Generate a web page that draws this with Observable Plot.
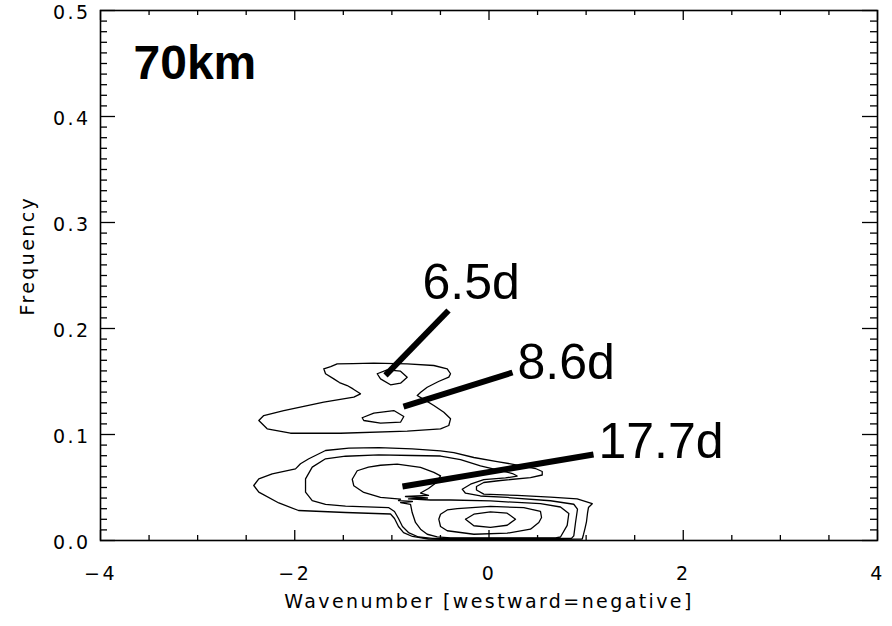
<!DOCTYPE html>
<html>
<head>
<meta charset="utf-8">
<script src="https://cdn.jsdelivr.net/npm/d3@7"></script>
<script src="https://cdn.jsdelivr.net/npm/@observablehq/plot@0.6"></script>
<style>
  body { margin: 0; background: #fff; }
  svg g[font-size="19"] { letter-spacing: 2.4px; }
</style>
</head>
<body>
<div id="chart"></div>
<script>
// ---- axis ticks & labels ----
const xTicks = [-4, -2, 0, 2, 4];
const xTickLabels = ["\u22124", "\u22122", "0", "2", "4"];
const xMinorTicks = [-3.5, -3, -2.5, -1.5, -1, -0.5, 0.5, 1, 1.5, 2.5, 3, 3.5];
const yTicks = [0, 0.1, 0.2, 0.3, 0.4, 0.5];
const yTickLabels = ["0.0", "0.1", "0.2", "0.3", "0.4", "0.5"];
const yMinorTicks = [0.01,0.02,0.03,0.04,0.05,0.06,0.07,0.08,0.09,
  0.11,0.12,0.13,0.14,0.15,0.16,0.17,0.18,0.19,
  0.21,0.22,0.23,0.24,0.25,0.26,0.27,0.28,0.29,
  0.31,0.32,0.33,0.34,0.35,0.36,0.37,0.38,0.39,
  0.41,0.42,0.43,0.44,0.45,0.46,0.47,0.48,0.49];

// ---- contour lines [wavenumber, frequency] ----
const upperOuter = [[-1.701,0.1620],[-1.630,0.1640],[-1.563,0.1667],[-1.400,0.1668],[-1.186,0.1673],[-0.842,0.1667],[-0.568,0.1651],[-0.430,0.1620],[-0.396,0.1573],[-0.414,0.1541],[-0.520,0.1500],[-0.636,0.1446],[-0.700,0.1400],[-0.739,0.1368],[-0.650,0.1320],[-0.568,0.1274],[-0.465,0.1210],[-0.396,0.1148],[-0.414,0.1085],[-0.499,0.1054],[-0.842,0.1031],[-1.529,0.1012],[-2.044,0.1012],[-2.284,0.1054],[-2.370,0.1132],[-2.319,0.1179],[-2.113,0.1226],[-1.701,0.1305],[-1.392,0.1352],[-1.323,0.1384],[-1.400,0.1430],[-1.460,0.1462],[-1.540,0.1490],[-1.598,0.1525],[-1.683,0.1573]];
const peak65 = [[-1.151,0.1573],[-1.048,0.1610],[-0.911,0.1597],[-0.842,0.1541],[-0.911,0.1484],[-1.014,0.1469],[-1.117,0.1525]];
const peak86 = [[-1.306,0.1158],[-1.186,0.1201],[-0.980,0.1226],[-0.877,0.1170],[-0.911,0.1116],[-1.117,0.1107],[-1.289,0.1132]];
const lowerLevel1 = [[-2.422,0.0519],[-2.370,0.0582],[-2.232,0.0629],[-1.992,0.0676],[-1.941,0.0724],[-1.855,0.0771],[-1.683,0.0849],[-1.443,0.0871],[-1.135,0.0877],[-0.791,0.0865],[-0.499,0.0846],[-0.362,0.0830],[-0.156,0.0783],[0.084,0.0745],[0.290,0.0712],[0.479,0.0679],[0.548,0.0651],[0.548,0.0618],[0.427,0.0594],[0.118,0.0566],[-0.054,0.0547],[-0.129,0.0509],[-0.129,0.0476],[-0.054,0.0437],[0.290,0.0425],[0.633,0.0410],[0.908,0.0392],[1.063,0.0347],[1.024,0.0311],[1.014,0.0255],[1.004,0.0179],[0.988,0.0113],[0.973,0.0057],[0.960,0.0014],[0.736,0.0012],[-0.499,0.0012],[-0.623,0.0014],[-0.788,0.0038],[-0.880,0.0075],[-0.932,0.0132],[-0.973,0.0208],[-1.014,0.0250],[-1.477,0.0264],[-1.961,0.0283],[-2.164,0.0354],[-2.370,0.0456]];
const lowerLevel2 = [[-1.889,0.0519],[-1.889,0.0582],[-1.820,0.0692],[-1.683,0.0771],[-1.477,0.0795],[-1.135,0.0808],[-0.791,0.0802],[-0.499,0.0797],[-0.293,0.0764],[-0.088,0.0705],[0.118,0.0660],[0.242,0.0632],[0.290,0.0608],[0.170,0.0590],[-0.054,0.0575],[-0.190,0.0531],[-0.276,0.0484],[-0.242,0.0446],[-0.088,0.0420],[0.187,0.0406],[0.633,0.0375],[0.873,0.0342],[0.911,0.0295],[0.891,0.0170],[0.873,0.0044],[0.849,0.0020],[-0.582,0.0020],[-0.726,0.0033],[-0.829,0.0075],[-0.891,0.0132],[-0.932,0.0208],[-0.973,0.0274],[-1.035,0.0311],[-1.477,0.0325],[-1.683,0.0340],[-1.820,0.0377],[-1.889,0.0456]];
const lowerLevel3 = [[-1.408,0.0578],[-1.357,0.0658],[-1.241,0.0693],[-1.117,0.0710],[-0.945,0.0720],[-0.705,0.0689],[-0.568,0.0642],[-0.499,0.0610],[-0.541,0.0547],[-0.623,0.0491],[-0.705,0.0448],[-0.623,0.0425],[-0.860,0.0415],[-0.633,0.0401],[-0.829,0.0392],[-0.602,0.0382],[-0.396,0.0382],[0.015,0.0373],[0.530,0.0347],[0.736,0.0316],[0.822,0.0255],[0.805,0.0142],[0.736,0.0033],[0.685,0.0025],[-0.396,0.0025],[-0.533,0.0035],[-0.636,0.0059],[-0.705,0.0107],[-0.757,0.0170],[-0.791,0.0264],[-0.808,0.0340],[-0.911,0.0358],[-0.788,0.0368],[-0.932,0.0377],[-0.911,0.0390],[-1.117,0.0406],[-1.289,0.0453],[-1.392,0.0516]];
const lowerLevel4 = [[-0.517,0.0201],[-0.499,0.0248],[-0.430,0.0288],[-0.327,0.0300],[0.015,0.0321],[0.358,0.0311],[0.530,0.0274],[0.541,0.0217],[0.513,0.0170],[0.427,0.0107],[0.187,0.0069],[-0.156,0.0059],[-0.430,0.0092],[-0.499,0.0132]];
const lowerLevel5 = [[-0.242,0.0201],[-0.156,0.0248],[0.015,0.0271],[0.187,0.0258],[0.273,0.0201],[0.187,0.0144],[0.015,0.0123],[-0.156,0.0139]];

// ---- annotations ----
const periodLabels = ["6.5d", "8.6d", "17.7d"];
const labelX = [-0.685, 0.293, 1.127];
const labelY = [0.2425, 0.167, 0.0925];
const leaderX1 = [-0.417, 0.242, 1.076];
const leaderY1 = [0.2170, 0.1585, 0.0811];
const leaderX2 = [-1.066, -0.880, -0.891];
const leaderY2 = [0.1557, 0.1264, 0.0509];
const panelTitle = ["70km"];
const panelTitleX = [-3.66];
const panelTitleY = [0.4495];

// build tables
const contourRows = [];
[["upperOuter", upperOuter], ["peak65", peak65], ["peak86", peak86],
 ["l1", lowerLevel1], ["l2", lowerLevel2], ["l3", lowerLevel3], ["l4", lowerLevel4], ["l5", lowerLevel5]]
  .forEach(([id, pts]) => pts.concat([pts[0]]).forEach(([x, y]) => contourRows.push({id, x, y})));
const leaders = periodLabels.map((t, i) => ({x1: leaderX1[i], y1: leaderY1[i], x2: leaderX2[i], y2: leaderY2[i]}));
const labels = periodLabels.map((t, i) => ({t, x: labelX[i], y: labelY[i]}));

const W = 892, H = 626, mL = 100, mR = 15, mT = 10, mB = 86;
const innerW = W - mL - mR, innerH = H - mT - mB;
const tickStyle = {stroke: "black", strokeWidth: 1.3};
const labelFont = "DejaVu Sans";

const chart = Plot.plot({
  width: W, height: H,
  marginLeft: mL, marginRight: mR, marginTop: mT, marginBottom: mB,
  x: {domain: [-4, 4], axis: null},
  y: {domain: [0, 0.5], axis: null},
  style: {background: "white", color: "black"},
  marks: [
    Plot.line(contourRows, {x: "x", y: "y", z: "id", stroke: "black", strokeWidth: 1.3}),
    Plot.frame({stroke: "black", strokeWidth: 1.6}),
    Plot.tickX(xTicks, {...tickStyle, insetTop: innerH - 10}),
    Plot.tickX(xTicks, {...tickStyle, insetBottom: innerH - 10}),
    Plot.tickX(xMinorTicks, {...tickStyle, insetTop: innerH - 5}),
    Plot.tickX(xMinorTicks, {...tickStyle, insetBottom: innerH - 5}),
    Plot.tickY(yTicks, {...tickStyle, insetRight: innerW - 15}),
    Plot.tickY(yTicks, {...tickStyle, insetLeft: innerW - 15}),
    Plot.tickY(yMinorTicks, {...tickStyle, insetRight: innerW - 7}),
    Plot.tickY(yMinorTicks, {...tickStyle, insetLeft: innerW - 7}),
    Plot.text(xTicks, {x: d => d, text: (d, i) => xTickLabels[i], frameAnchor: "bottom", dy: 39,
      fontFamily: labelFont, fontSize: 19, fill: "black"}),
    Plot.text(yTicks, {y: d => d, text: (d, i) => yTickLabels[i], frameAnchor: "left", dx: -10, dy: 2,
      textAnchor: "end", fontFamily: labelFont, fontSize: 19, fill: "black"}),
    Plot.text(["Wavenumber [westward=negative]"], {frameAnchor: "bottom", dy: 67,
      fontFamily: labelFont, fontSize: 19, fill: "black"}),
    Plot.text(["Frequency"], {frameAnchor: "left", dx: -73, dy: 40, rotate: -90,
      fontFamily: labelFont, fontSize: 19, fill: "black"}),
    Plot.link(leaders, {x1: "x1", y1: "y1", x2: "x2", y2: "y2", stroke: "black", strokeWidth: 6}),
    Plot.text(labels, {x: "x", y: "y", text: "t", textAnchor: "start",
      fontFamily: "Liberation Sans", fontSize: 50, fill: "black"}),
    Plot.text(panelTitle, {x: (d, i) => panelTitleX[i], y: (d, i) => panelTitleY[i], textAnchor: "start",
      fontFamily: "Liberation Sans", fontWeight: "bold", fontSize: 48, fill: "black"})
  ]
});
document.getElementById("chart").appendChild(chart);
</script>
</body>
</html>
